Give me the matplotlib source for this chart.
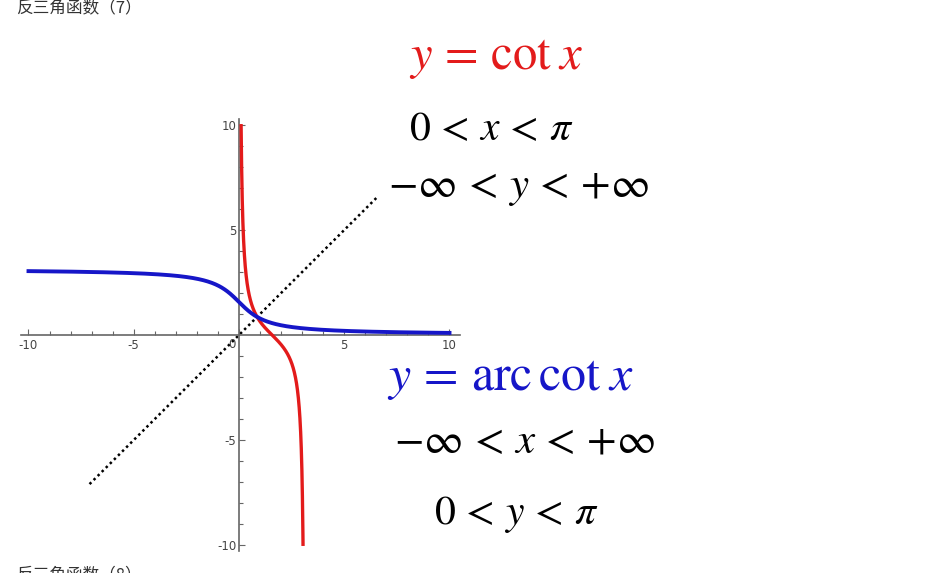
import numpy as np
import matplotlib
matplotlib.use("Agg")
import matplotlib.pyplot as plt

plt.rcParams['mathtext.fontset'] = 'stix'

W, H = 927, 573
# data
xticks_major = [-10, -5, 0, 5, 10]
xtick_labels = ["-10", "-5", "", "5", "10"]
yticks_major = [-10, -5, 5, 10]
ytick_labels = ["-10", "-5", "5", "10"]
cot_domain = [0.1, np.pi - 0.1]
arccot_domain = [-10, 10]
diag_domain = [-7.1, 6.6]
title_top = "反三角函数（7）"
title_bottom = "反三角函数（8）"

fig = plt.figure(figsize=(W / 100, H / 100), dpi=100)
ax = fig.add_axes([0, 0, 1, 1])
sx, sy = 21.05, 21.0
x0p, y0p = 239, 335
ax.set_xlim(-x0p / sx, (W - x0p) / sx)
ax.set_ylim(-(H - y0p) / sy, y0p / sy)

# curves
xc = np.linspace(cot_domain[0], cot_domain[1], 600)
ax.plot(xc, 1 / np.tan(xc), color='#e31b1b', lw=2.4, zorder=3)
xa = np.linspace(arccot_domain[0], arccot_domain[1], 600)
ax.plot(xa, np.pi / 2 - np.arctan(xa), color='#1616c8', lw=2.8, zorder=3)
xd = np.array(diag_domain)
ax.plot(xd, xd, color='black', lw=1.8, ls=(0, (1, 1.3)), zorder=2)

# axes through origin
for s in ['top', 'right']:
    ax.spines[s].set_visible(False)
ax.spines['bottom'].set_position(('data', 0))
ax.spines['left'].set_position(('data', 0))
ax.spines['bottom'].set_bounds(-10.35, 10.5)
ax.spines['left'].set_bounds(-10.3, 10.3)
for s in ['bottom', 'left']:
    ax.spines[s].set_color('#666666')
    ax.spines[s].set_linewidth(1.2)
ax.set_xticks(xticks_major)
ax.set_xticklabels(xtick_labels)
ax.set_yticks(yticks_major)
ax.set_yticklabels(ytick_labels)
ax.set_xticks([v for v in range(-10, 11) if v % 5], minor=True)
ax.set_yticks([v for v in range(-10, 11) if v % 5], minor=True)
ax.tick_params(which='both', direction='in', color='#666666', width=0.8,
               labelsize=8.5, labelcolor='#444444')
ax.tick_params(axis='x', pad=3)
ax.tick_params(axis='y', pad=2)
ax.tick_params(which='major', length=4)
ax.tick_params(which='minor', length=3)
ax.text(-0.15, -0.15, "0", fontsize=8.5, color='#444444', ha='right', va='top')
ax.patch.set_alpha(0)

def ft(px, py, s, **kw):
    fig.text(px / W, 1 - py / H, s, **kw)

fs = 30
fb = 35
ft(496, 57, r"$y\,=\,\mathrm{cot}\;x$", color='#e31b1b', fontsize=fb, ha='center', va='center')
ft(491, 128, r"$0\,<\,x\,<\,\pi$", color='black', fontsize=fs, ha='center', va='center')
ft(518, 187, r"$-\infty\,<\,y\,<\,{+}\infty$", color='black', fontsize=fs + 1, ha='center', va='center')
ft(510, 378, r"$y\,=\,\mathrm{arc}\,\mathrm{cot}\;x$", color='#1616c8', fontsize=fb + 1, ha='center', va='center')
ft(524, 441, r"$-\infty\,<\,x\,<\,{+}\infty$", color='black', fontsize=fs + 1, ha='center', va='center')
ft(516, 514, r"$0\,<\,y\,<\,\pi$", color='black', fontsize=fs, ha='center', va='center')

ft(16, 8, title_top, fontsize=12, color='#333333', ha='left', va='center',
   family=['Noto Sans CJK SC', 'DejaVu Sans'])
ft(16, 566, title_bottom, fontsize=12, color='#333333', ha='left', va='top',
   family=['Noto Sans CJK SC', 'DejaVu Sans'])

fig.savefig("out.png", dpi=100)
